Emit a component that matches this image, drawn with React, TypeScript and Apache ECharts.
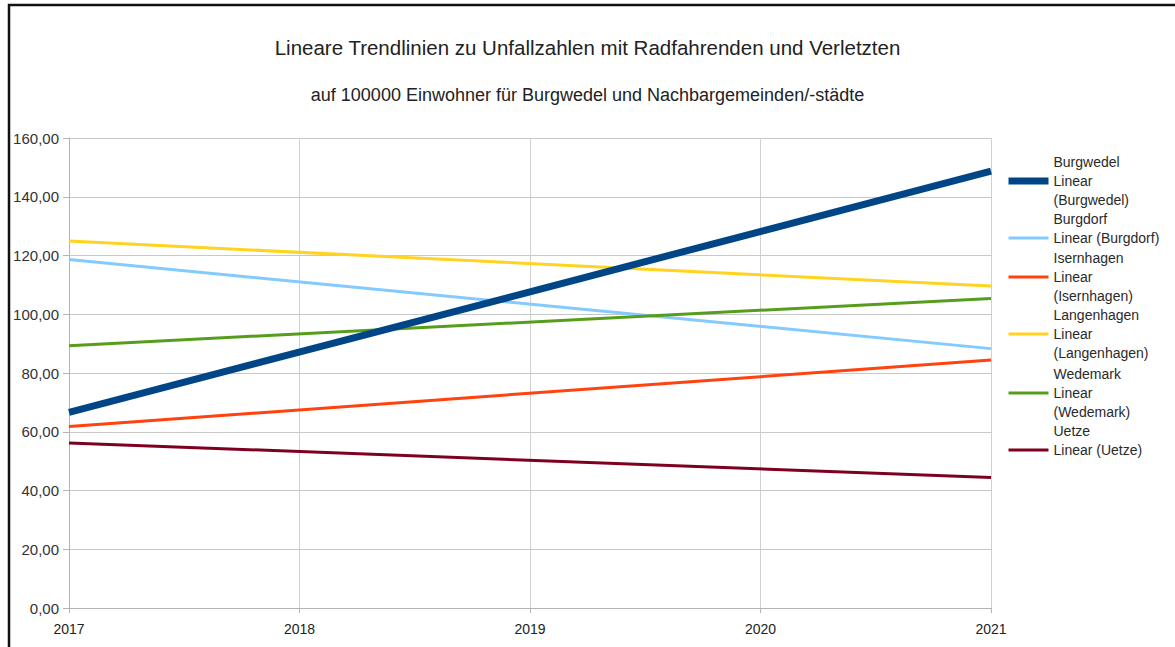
import React, { useEffect, useRef } from "react";
import * as echarts from "echarts";

const years = ["2017", "2018", "2019", "2020", "2021"];
const cities = ["Burgwedel", "Burgdorf", "Isernhagen", "Langenhagen", "Wedemark", "Uetze"];
// Trend line end points (2017 and 2021); the line is straight between them
const burgwedel = [66.6, null, null, null, 148.7];
const burgdorf = [118.6, null, null, null, 88.3];
const isernhagen = [61.8, null, null, null, 84.4];
const langenhagen = [124.9, null, null, null, 109.6];
const wedemark = [89.3, null, null, null, 105.4];
const uetze = [56.2, null, null, null, 44.4];
const seriesValues = [burgwedel, burgdorf, isernhagen, langenhagen, wedemark, uetze];
const yTicks = [0, 20, 40, 60, 80, 100, 120, 140, 160];

const colors = ["#004586", "#83caff", "#ff420e", "#ffd320", "#579d1c", "#7e0021"];
const widths = [7, 3, 3, 3, 3, 3];
const wrapLegend = [true, false, true, true, true, false];
const legendIconY = [181, 238, 277, 334, 393, 450];

const title = "Lineare Trendlinien zu Unfallzahlen mit Radfahrenden und Verletzten";
const subtitle = "auf 100000 Einwohner für Burgwedel und Nachbargemeinden/-städte";

const FONT = "Liberation Sans, Arial, sans-serif";

export default function App() {
  const ref = useRef<HTMLDivElement>(null);
  useEffect(() => {
    if (!ref.current) return;
    const chart = echarts.init(ref.current, null, { renderer: "svg" });
    const lineH = 19;
    const names = cities.map((c) => `Linear (${c})`);
    const legends = cities.map((c, i) => ({
      show: true,
      left: 1007 - (widths[i] - 3) / 2,
      top: legendIconY[i] - 1.5 * lineH,
      padding: 0,
      orient: "vertical",
      itemWidth: 40,
      itemHeight: 14,
      selectedMode: false,
      data: [names[i]],
      itemStyle: { opacity: 0, borderWidth: 0 },
      lineStyle: { width: widths[i], color: colors[i] },
      formatter: () =>
        wrapLegend[i] ? `${c}\nLinear\n(${c})` : `${c}\nLinear (${c})\n `,
      textStyle: { fontFamily: FONT, fontSize: 14, color: "#2a2a2a", lineHeight: lineH },
    }));
    chart.setOption({
      animation: false,
      backgroundColor: "#fff",
      textStyle: { fontFamily: FONT },
      title: [
        {
          text: title,
          left: "center",
          top: 32,
          textStyle: { fontFamily: FONT, fontSize: 20.5, fontWeight: "normal", color: "#222" },
        },
        {
          text: subtitle,
          left: "center",
          top: 81,
          textStyle: { fontFamily: FONT, fontSize: 18, fontWeight: "normal", color: "#222" },
        },
      ],
      legend: legends,
      grid: { left: 69, right: 184, top: 138, bottom: 39, containLabel: false },
      xAxis: {
        type: "category",
        data: years,
        boundaryGap: false,
        axisLine: { show: true, lineStyle: { color: "#b3b3b3", width: 1 } },
        axisTick: { show: true, length: 5, lineStyle: { color: "#b3b3b3" } },
        splitLine: { show: true, lineStyle: { color: "#d0d0d0", width: 1 } },
        axisLabel: { fontFamily: FONT, fontSize: 14, color: "#222", margin: 14 },
      },
      yAxis: {
        type: "value",
        min: 0,
        max: 160,
        interval: 20,
        axisLine: { show: true, lineStyle: { color: "#b3b3b3", width: 1 } },
        axisTick: { show: true, length: 6, lineStyle: { color: "#b3b3b3" } },
        splitLine: { show: true, lineStyle: { color: "#c8c8c8", width: 1 } },
        axisLabel: {
          fontFamily: FONT,
          fontSize: 15,
          color: "#333",
          margin: 10,
          formatter: (v: number) =>
            yTicks.includes(v) ? v.toFixed(2).replace(".", ",") : "",
        },
      },
      series: cities.map((c, i) => ({
        name: names[i],
        type: "line",
        data: seriesValues[i],
        connectNulls: true,
        showSymbol: false,
        symbol: "none",
        color: colors[i],
        lineStyle: { color: colors[i], width: widths[i] },
        z: i === 0 ? 3 : 2,
      })),
      graphic: [
        {
          type: "rect",
          shape: { x: 9, y: 5, width: 1300, height: 800 },
          style: { fill: "none", stroke: "#111", lineWidth: 2.5 },
          silent: true,
        },
      ],
    });
    return () => chart.dispose();
  }, []);
  return (
    <div
      ref={ref}
      style={{ position: "absolute", left: 0, top: 0, width: 1175, height: 647, background: "#fff" }}
    />
  );
}
